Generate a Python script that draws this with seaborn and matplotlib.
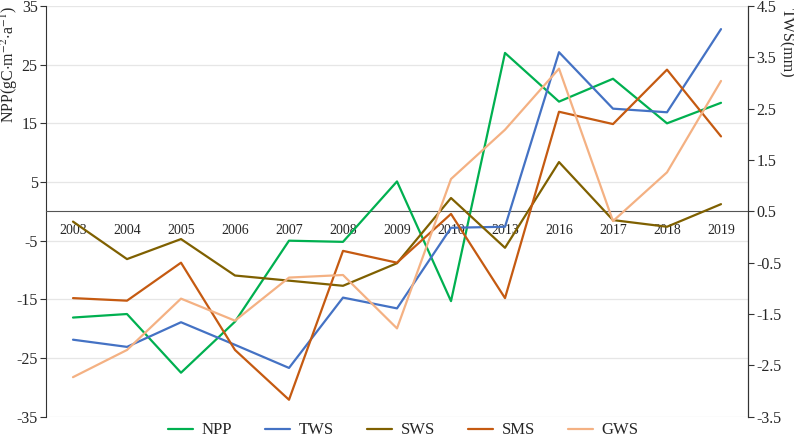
import matplotlib
matplotlib.use('Agg')
import matplotlib.pyplot as plt
import pandas as pd
import seaborn as sns

# Data
years = ['2003', '2004', '2005', '2006', '2007', '2008', '2009',
         '2010', '2013', '2016', '2017', '2018', '2019']
npp = [-18.1, -17.5, -27.5, -18.8, -5.0, -5.2, 5.1, -15.3, 27.0, 18.7, 22.6, 15.0, 18.5]
tws = [-2.00, -2.14, -1.66, -2.10, -2.55, -1.18, -1.39, 0.18, 0.20, 3.60, 2.50, 2.43, 4.05]
sws = [0.30, -0.43, -0.04, -0.75, -0.85, -0.95, -0.51, 0.76, -0.21, 1.46, 0.33, 0.20, 0.64]
sms = [-1.19, -1.24, -0.50, -2.20, -3.17, -0.27, -0.50, 0.45, -1.19, 2.44, 2.20, 3.26, 1.96]
gws = [-2.73, -2.20, -1.20, -1.63, -0.79, -0.74, -1.78, 1.13, 2.09, 3.28, 0.31, 1.26, 3.04]

left_ticks = [35, 25, 15, 5, -5, -15, -25, -35]
right_ticks = [4.5, 3.5, 2.5, 1.5, 0.5, -0.5, -1.5, -2.5, -3.5]

colors = {'NPP': '#00B050', 'TWS': '#4472C4', 'SWS': '#7F6000',
          'SMS': '#C55A11', 'GWS': '#F4B183'}

sns.set_style('white')
plt.rcParams['font.family'] = ['Liberation Serif', 'DejaVu Serif']
plt.rcParams['mathtext.fontset'] = 'stix'
font_size = 11.5

pos = list(range(len(years)))
df_left = pd.DataFrame({'x': pos, 'value': npp, 'series': 'NPP'})
df_right = pd.concat([
    pd.DataFrame({'x': pos, 'value': tws, 'series': 'TWS'}),
    pd.DataFrame({'x': pos, 'value': sws, 'series': 'SWS'}),
    pd.DataFrame({'x': pos, 'value': sms, 'series': 'SMS'}),
    pd.DataFrame({'x': pos, 'value': gws, 'series': 'GWS'}),
])

fig = plt.figure(figsize=(7.94, 4.41), dpi=100)
ax = fig.add_axes([46 / 794, 24.3 / 441, 702 / 794, 410.7 / 441])
ax2 = ax.twinx()

sns.lineplot(data=df_left, x='x', y='value', hue='series', palette=colors,
             linewidth=1.6, ax=ax, legend=False, zorder=3)
sns.lineplot(data=df_right, x='x', y='value', hue='series', palette=colors,
             linewidth=1.6, ax=ax2, legend=False, zorder=3)

# Left axis (NPP)
ax.set_ylim(-35, 35)
ax.set_yticks(left_ticks)
ax.set_yticklabels([str(t) for t in left_ticks], fontsize=font_size)
ax.yaxis.grid(True, color='#e6e6e6', linewidth=0.9)
ax.set_axisbelow(True)
ax.set_ylabel(r'NPP(gC$\cdot$m$^{-2}$$\cdot$a$^{-1}$)', fontsize=font_size)
ax.yaxis.set_label_coords(-0.037, 1.0)
ax.yaxis.label.set_ha('right')
ax.yaxis.label.set_va('bottom')

# Right axis (water storage)
ax2.set_ylim(-3.5, 4.5)
ax2.set_yticks(right_ticks)
ax2.set_yticklabels([str(t) for t in right_ticks], fontsize=font_size)
ax2.set_ylabel('TWS(mm)', fontsize=font_size, rotation=270)
ax2.yaxis.set_label_coords(1.043, 0.995)
ax2.yaxis.label.set_ha('left')
ax2.yaxis.label.set_va('bottom')

# Category axis on the zero line
ax.set_xlim(-0.5, len(years) - 0.5)
ax.set_xticks(pos)
ax.set_xticklabels(years, fontsize=12.5)
ax.set_xticks([p + 0.5 for p in pos[:-1]], minor=True)
ax.tick_params(axis='x', which='major', length=0, pad=9)
ax.tick_params(axis='x', which='minor', direction='in', length=5, color='#333333')
ax.spines['bottom'].set_position(('data', 0))
ax.set_xlabel('')
ax2.set_xlabel('')

for a in (ax, ax2):
    a.spines['top'].set_visible(False)
ax2.spines['bottom'].set_visible(False)
ax.spines['bottom'].set_color('#555555')
ax.spines['left'].set_color('#333333')
ax2.spines['right'].set_color('#333333')
ax2.spines['left'].set_visible(False)
ax.tick_params(axis='y', which='major', direction='out', length=4, color='#333333', pad=2)
ax2.tick_params(axis='y', which='major', direction='out', length=4, color='#333333', pad=2)

# Legend under the plot
handles = [plt.Line2D([], [], color=colors[k], linewidth=1.6) for k in colors]
fig.legend(handles, list(colors), loc='lower center', bbox_to_anchor=(0.508, -0.028),
           ncol=5, frameon=False, fontsize=12, handlelength=1.5,
           columnspacing=2.0, handletextpad=0.5)

fig.savefig('out.png', dpi=100)
